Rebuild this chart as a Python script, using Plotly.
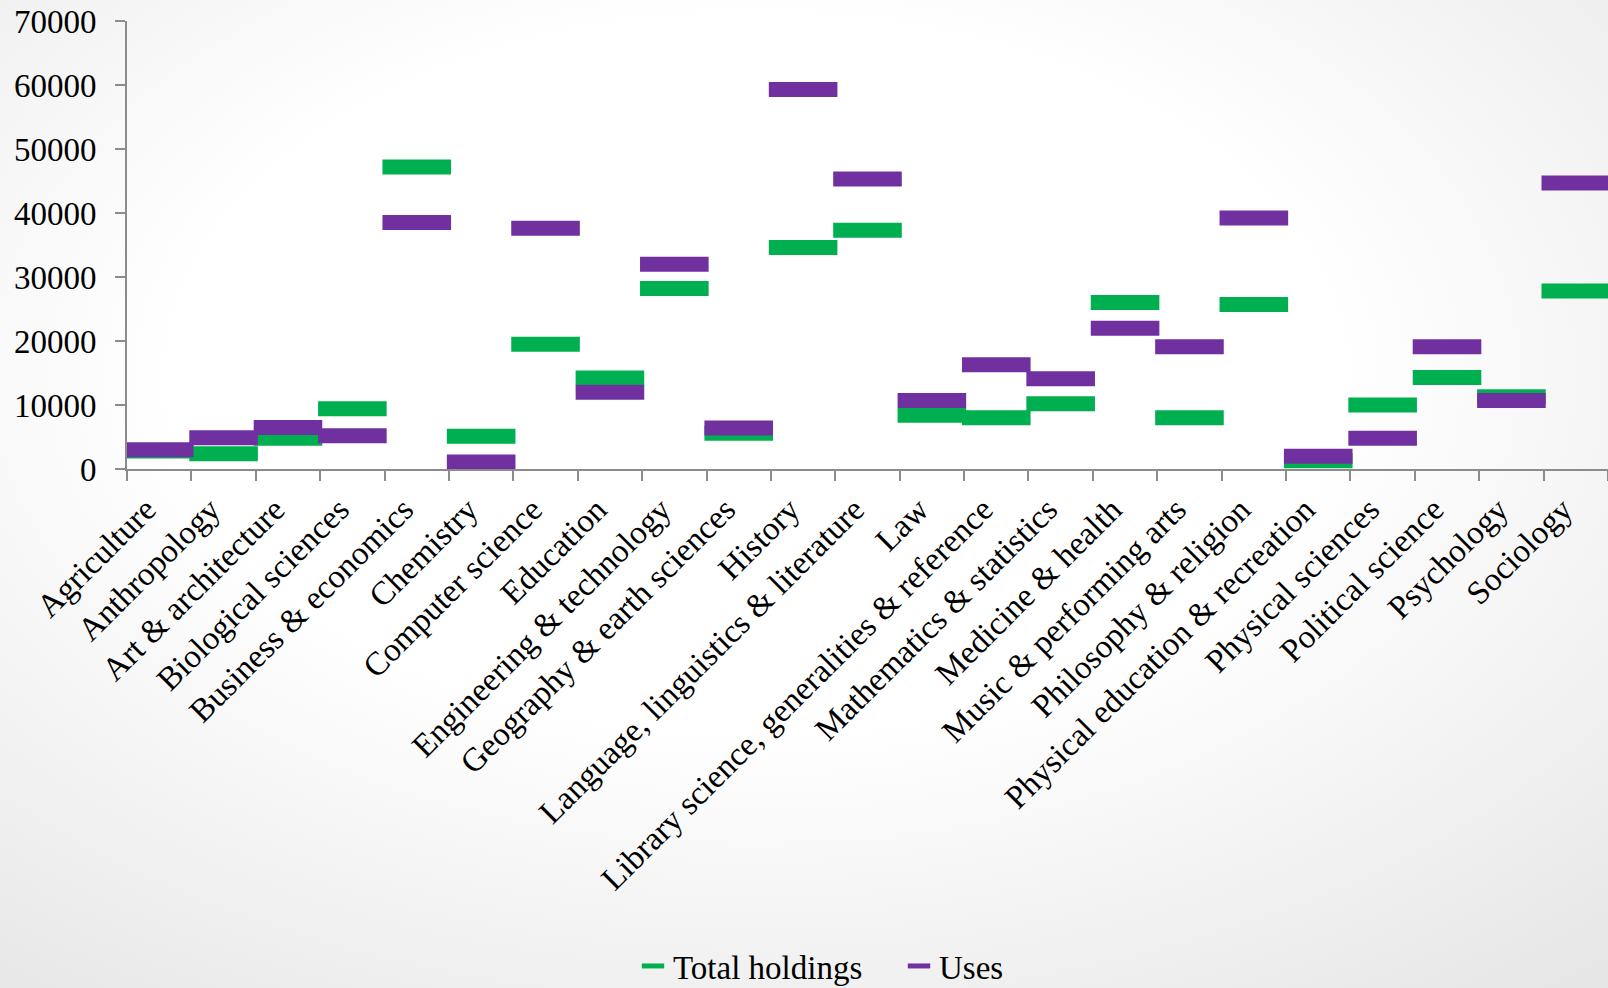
import base64
import plotly.graph_objects as go

# categories and values
categories = ["Agriculture", "Anthropology", "Art & architecture", "Biological sciences",
              "Business & economics", "Chemistry", "Computer science", "Education",
              "Engineering & technology", "Geography & earth sciences", "History",
              "Language, linguistics & literature", "Law",
              "Library science, generalities & reference", "Mathematics & statistics",
              "Medicine & health", "Music & performing arts", "Philosophy & religion",
              "Physical education & recreation", "Physical sciences", "Political science",
              "Psychology", "Sociology"]
total_holdings = [2800, 2400, 4800, 9400, 47200, 5100, 19500, 14200, 28200, 5600, 34600,
                  37300, 8400, 8000, 10200, 26000, 8000, 25700, 1300, 10000, 14300, 11300, 27800]
uses = [3000, 4900, 6500, 5200, 38500, 1100, 37600, 12000, 32000, 6400, 59300,
        45300, 10700, 16300, 14100, 22000, 19100, 39200, 2000, 4800, 19100, 10700, 44700]

GREEN = "#00b050"
PURPLE = "#7030a0"
FONT = "Liberation Serif"

W, H = 1608, 988
ml, mr, mt, mb = 127, 0, 21, 519
pw, ph = W - ml - mr, H - mt - mb

# soft radial background like the slide
svg = ('<svg xmlns="http://www.w3.org/2000/svg" width="1608" height="988" '
       'preserveAspectRatio="none">'
       '<defs><radialGradient id="g" cx="47%" cy="38%" r="80%">'
       '<stop offset="0.45" stop-color="#ffffff"/>'
       '<stop offset="1" stop-color="#e6e6e6"/></radialGradient></defs>'
       '<rect width="1608" height="988" fill="url(#g)"/></svg>')
bg = "data:image/svg+xml;base64," + base64.b64encode(svg.encode()).decode()

# line-ew marker is 1.4 * size long
dash = dict(symbol="line-ew", size=49)

fig = go.Figure()
fig.add_trace(go.Scatter(x=categories, y=total_holdings, name="Total holdings", mode="markers",
                         marker=dict(**dash, color=GREEN, line=dict(width=15, color=GREEN))))
fig.add_trace(go.Scatter(x=categories, y=uses, name="Uses", mode="markers",
                         marker=dict(**dash, color=PURPLE, line=dict(width=15, color=PURPLE))))

fig.update_layout(
    width=W, height=H,
    margin=dict(l=ml, r=mr, t=mt, b=mb, autoexpand=False),
    paper_bgcolor="white", plot_bgcolor="rgba(0,0,0,0)",
    font=dict(family=FONT, size=33, color="black"),
    images=[dict(source=bg, xref="paper", yref="paper", x=-ml / pw, y=1 + mt / ph,
                 sizex=W / pw, sizey=H / ph, xanchor="left", yanchor="top",
                 sizing="stretch", layer="below")],
    showlegend=True,
    legend=dict(orientation="h", x=(633 - ml) / pw, xanchor="left", y=-(966 - (mt + ph)) / ph,
                yanchor="middle", font=dict(size=33), bgcolor="rgba(0,0,0,0)",
                entrywidth=221),
)
fig.update_xaxes(range=[-0.5, len(categories) - 0.5], showline=True, linecolor="#8c8c8c",
                 linewidth=2, showgrid=False, ticks="outside", tickson="boundaries", ticklen=10,
                 tickcolor="#8c8c8c", tickwidth=2, tickangle=-45, ticklabelstandoff=6,
                 ticklabelshift=-13, ticklabeloverflow="allow",
                 tickfont=dict(size=33), automargin=False)
fig.update_yaxes(range=[0, 70000], dtick=10000, tickformat="d", showline=True,
                 linecolor="#8c8c8c", linewidth=2, showgrid=False, zeroline=False,
                 ticks="outside", ticklen=10, tickcolor="#8c8c8c", tickwidth=2,
                 ticklabelstandoff=12, ticklabeloverflow="allow",
                 tickfont=dict(size=33), automargin=False)

# drop the default 8px page margin so the figure fills the window
fig.write_html("out.html", config={"displayModeBar": False},
               post_script="document.body.style.margin = '0';")
